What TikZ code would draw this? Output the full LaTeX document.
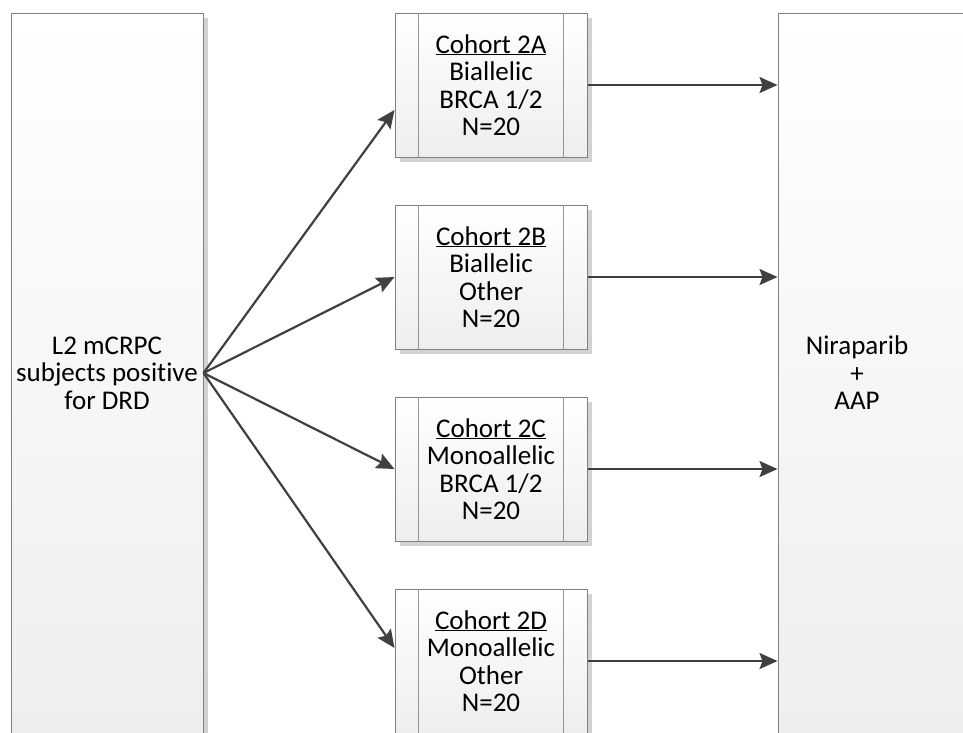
\documentclass[tikz,border=0pt]{standalone}
\usepackage{fontspec}
\setmainfont[Ligatures=NoCommon]{Carlito}
\usetikzlibrary{arrows.meta,shadows,calc}
\definecolor{boxgray}{RGB}{128,128,128}
\definecolor{innergray}{RGB}{150,150,150}
\definecolor{boxbottom}{RGB}{238,238,238}
\definecolor{arrowgray}{RGB}{64,64,64}
\definecolor{shadowgray}{RGB}{210,210,210}
\begin{document}
\begin{tikzpicture}[x=1pt,y=-1pt,
  basebox/.style={draw=boxgray, line width=1pt, top color=white, bottom color=boxbottom,
    drop shadow={shadow xshift=5pt, shadow yshift=-5pt, fill=shadowgray, opacity=1},
    inner sep=0pt, align=center, font=\fontsize{27}{27.5}\selectfont},
  tallbox/.style={basebox, minimum width=192pt, minimum height=720pt},
  cohortbox/.style={basebox, minimum width=192pt, minimum height=144pt},
  innerline/.style={draw=innergray, line width=1pt},
  conn/.style={draw=arrowgray, line width=2.2pt, -{Stealth[length=18pt,width=16pt,inset=3pt]}},
  lbl/.style={align=center, font=\fontsize{27}{27.5}\selectfont}
]
\useasboundingbox (0,0) rectangle (963,732);
\clip (0,0) rectangle (963,732);

\node[tallbox] (L) at (107,373) {L2 mCRPC\\subjects positive\\for DRD};
\node[tallbox] (R) at (874,373) {};
\node[lbl] (Rt) at (857,373) {Niraparib\\+\\AAP};

\node[cohortbox] (A) at (491,85) {\underline{Cohort 2A}\\Biallelic\\BRCA 1/2\\N=20};
\node[cohortbox] (B) at (491,277) {\underline{Cohort 2B}\\Biallelic\\Other\\N=20};
\node[cohortbox] (C) at (491,469) {\underline{Cohort 2C}\\Monoallelic\\BRCA 1/2\\N=20};
\node[cohortbox] (D) at (491,661) {\underline{Cohort 2D}\\Monoallelic\\Other\\N=20};

\foreach \n in {A,B,C,D}{
  \draw[innerline] ([xshift=24pt]\n.north west) -- ([xshift=24pt]\n.south west);
  \draw[innerline] ([xshift=-24pt]\n.north east) -- ([xshift=-24pt]\n.south east);
}

\coordinate (fan) at (L.east);
\coordinate (tA) at ([yshift=-25pt]A.west);
\coordinate (tD) at ([yshift=13pt]D.west);
\draw[conn] (fan) -- (tA);
\draw[conn] (fan) -- (B.west);
\draw[conn] (fan) -- (C.west);
\draw[conn] (fan) -- (tD);

\foreach \n in {A,B,C,D}{
  \draw[conn] (\n.east) -- (\n.east -| R.west);
}
\end{tikzpicture}
\end{document}
